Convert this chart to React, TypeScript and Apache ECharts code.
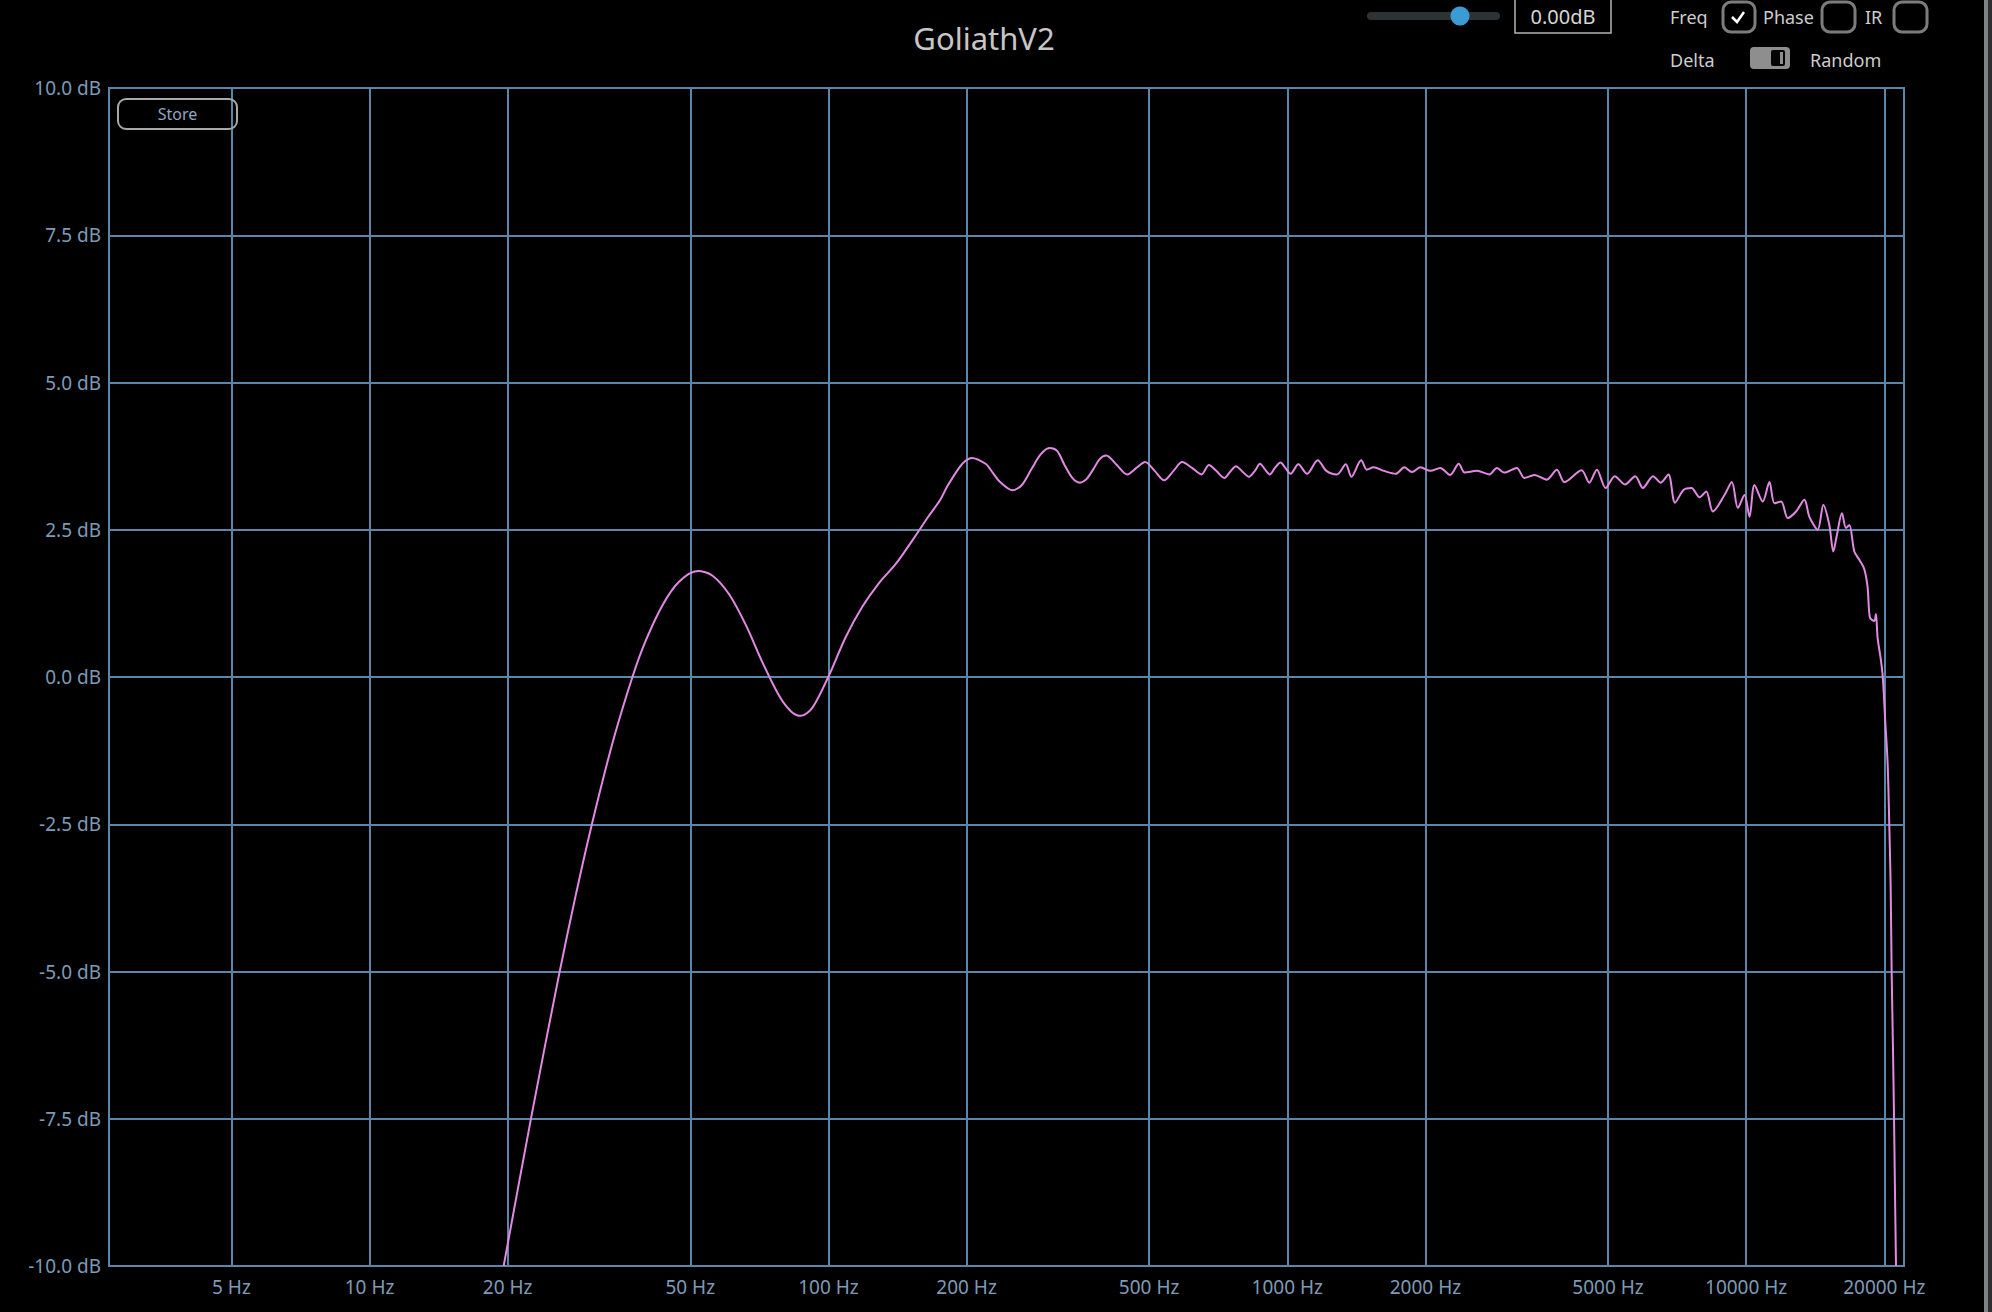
import React, { useEffect, useRef } from "react";
import * as echarts from "echarts";

// ---- axis ticks ----
const freqTicksHz = [5, 10, 20, 50, 100, 200, 500, 1000, 2000, 5000, 10000, 20000];
const dbMin = -10;
const dbMax = 10;
const dbStep = 2.5;
const freqMinHz = 2.705;
const freqMaxHz = 22080;

// ---- curve: low band (rise, first bump and dip) ----
const lowFreqHz = [19.6, 22.5, 25.9, 28.2, 30.6, 33.9, 37.4, 40.0, 43.5, 47.3, 51.9, 55.9, 60.8, 66.1, 71.9, 78.1, 82.8, 87.1, 92.3, 99.9, 109.1, 118.7, 129, 140.2, 152.4, 165, 175, 182, 193, 199];
const lowDb = [-10, -7.48, -5.04, -3.67, -2.46, -1.1, 0, 0.62, 1.22, 1.62, 1.8, 1.72, 1.4, 0.88, 0.24, -0.32, -0.58, -0.66, -0.52, 0, 0.68, 1.2, 1.6, 1.92, 2.32, 2.72, 3.0, 3.25, 3.56, 3.67];

// ---- curve: mid band (ripples) ----
const midFreqHz = [205, 220, 228, 236, 252, 264, 277, 290, 303, 315, 327, 340, 353, 365, 378, 390, 403, 425, 448, 469, 490, 514, 539, 565, 590, 620, 650, 675, 700, 729, 750, 773, 800, 825, 850, 872, 895, 916, 940, 967, 990, 1017, 1057, 1104, 1165, 1217, 1283, 1341, 1379, 1449, 1491, 1543, 1623, 1723, 1800, 1870, 1950, 2051, 2154, 2264, 2364, 2436, 2590, 2755, 2863, 2972, 3163, 3286, 3454, 3676, 3868, 4017, 4379, 4550, 4728, 4940, 5173, 5445, 5732, 5956, 6268, 6514, 6770, 6998, 7310, 7597, 7914];
const midDb = [3.72, 3.62, 3.47, 3.32, 3.17, 3.26, 3.53, 3.78, 3.89, 3.84, 3.6, 3.38, 3.3, 3.36, 3.53, 3.7, 3.76, 3.6, 3.44, 3.55, 3.65, 3.5, 3.34, 3.5, 3.65, 3.55, 3.44, 3.6, 3.5, 3.38, 3.48, 3.58, 3.48, 3.4, 3.5, 3.62, 3.52, 3.44, 3.55, 3.64, 3.55, 3.45, 3.61, 3.45, 3.68, 3.5, 3.44, 3.61, 3.4, 3.68, 3.52, 3.56, 3.5, 3.45, 3.56, 3.48, 3.56, 3.5, 3.55, 3.43, 3.62, 3.47, 3.5, 3.44, 3.55, 3.47, 3.55, 3.38, 3.43, 3.35, 3.52, 3.31, 3.51, 3.3, 3.52, 3.21, 3.41, 3.27, 3.41, 3.21, 3.41, 3.3, 3.44, 2.96, 3.18, 3.21, 3.05];

// ---- curve: high band (noisy top end and roll-off) ----
const highFreqHz = [8185, 8462, 8971, 9307, 9592, 9917, 10170, 10426, 10870, 11240, 11527, 11918, 12322, 12846, 13394, 13734, 14318, 14732, 15180, 15486, 15749, 16176, 16503, 16783, 17208, 17645, 18093, 18396, 18610, 19019, 19180, 19340, 19668, 19850, 20100, 20337, 20510, 20648, 20752, 20893, 20999, 21105, 21210];
const highDb = [3.15, 2.81, 3.09, 3.31, 2.87, 3.09, 2.72, 3.26, 2.98, 3.31, 2.95, 2.98, 2.7, 2.81, 3.01, 2.72, 2.5, 2.92, 2.58, 2.13, 2.39, 2.78, 2.53, 2.58, 2.13, 1.99, 1.83, 1.52, 1.01, 0.95, 1.07, 0.67, 0.28, 0.0, -0.76, -1.46, -2.52, -3.54, -4.99, -6.32, -7.45, -8.75, -10];

const GRID = "#5a86a8";
const LABEL = "#7d9bb6";
const CURVE = "#e28ae2";
const UI_TEXT = "#cdcdcd";
const FONT = "'Noto Sans', 'Open Sans', sans-serif";

function buildPoints(): number[][] {
  const f = [...lowFreqHz, ...midFreqHz, ...highFreqHz];
  const d = [...lowDb, ...midDb, ...highDb];
  return f.map((hz, i) => [Math.log10(hz), d[i]]);
}

export default function App() {
  const ref = useRef<HTMLDivElement>(null);

  useEffect(() => {
    if (!ref.current) return;
    const chart = echarts.init(ref.current, null, { renderer: "svg" });
    const tickLogs = freqTicksHz.map((v) => Math.log10(v));

    const label = (x: number, y: number, text: string, size = 18, color = UI_TEXT, align = "left") => ({
      type: "text",
      x,
      y,
      style: {
        text,
        fill: color,
        font: `${size}px ${FONT}`,
        align,
        textAlign: align,
        verticalAlign: "middle",
        textVerticalAlign: "middle",
      },
      z: 100,
    });

    const box = (x: number, y: number, w: number, h: number, r: number, stroke: string, lw: number, fill = "rgba(0,0,0,0)") => ({
      type: "rect",
      shape: { x, y, width: w, height: h, r },
      style: { fill, stroke, lineWidth: lw },
      z: 100,
    });

    chart.setOption({
      animation: false,
      backgroundColor: "#000000",
      textStyle: { fontFamily: FONT },
      grid: {
        left: 109,
        right: 88,
        top: 88,
        bottom: 46,
        show: true,
        borderColor: GRID,
        borderWidth: 2,
        backgroundColor: "#000000",
        containLabel: false,
      },
      xAxis: {
        type: "value",
        min: Math.log10(freqMinHz),
        max: Math.log10(freqMaxHz),
        axisLine: { show: true, lineStyle: { color: GRID, width: 2 } },
        axisTick: { show: false, customValues: tickLogs },
        axisLabel: {
          customValues: tickLogs,
          color: LABEL,
          fontSize: 19,
          fontFamily: FONT,
          margin: 11,
          formatter: (v: number) => `${Math.round(Math.pow(10, v))} Hz`,
        },
        splitLine: { show: true, lineStyle: { color: GRID, width: 2 } },
      },
      yAxis: {
        type: "value",
        min: dbMin,
        max: dbMax,
        interval: dbStep,
        axisLine: { show: true, lineStyle: { color: GRID, width: 2 } },
        axisTick: { show: false },
        axisLabel: {
          color: LABEL,
          fontSize: 19,
          fontFamily: FONT,
          margin: 8,
          formatter: (v: number) => `${v.toFixed(1)} dB`,
        },
        splitLine: { show: true, lineStyle: { color: GRID, width: 2 } },
      },
      series: [
        {
          type: "line",
          data: buildPoints(),
          showSymbol: false,
          symbol: "none",
          smooth: 0.3,
          clip: true,
          lineStyle: { color: CURVE, width: 2 },
          z: 10,
        },
      ],
      graphic: [
        // title
        label(984, 38, "GoliathV2", 31, "#c6c6c6", "center"),
        // gain slider
        box(1367, 12, 133, 8, 4, "rgba(0,0,0,0)", 0, "#2d3235"),
        { type: "circle", shape: { cx: 1460, cy: 16, r: 9.5 }, style: { fill: "#3a9bd5" }, z: 101 },
        box(1515, -2, 96, 35, 0, "#b4b4b4", 1.5),
        label(1563, 16, "0.00dB", 20, "#d6d6d6", "center"),
        // checkboxes
        label(1670, 17, "Freq"),
        box(1723, 2, 32, 30, 8, "#7c7c7c", 3),
        {
          type: "polyline",
          shape: { points: [[1732, 17], [1737, 22], [1744, 12]] },
          style: { stroke: "#ffffff", lineWidth: 2.5, fill: "none" },
          z: 101,
        },
        label(1763, 17, "Phase"),
        box(1822, 2, 33, 30, 8, "#7c7c7c", 3),
        label(1865, 17, "IR"),
        box(1894, 2, 33, 30, 8, "#7c7c7c", 3),
        // delta toggle
        label(1670, 60, "Delta"),
        box(1750, 47, 40, 22, 4, "rgba(0,0,0,0)", 0, "#8e8e8e"),
        box(1771, 50, 14, 16, 2, "rgba(0,0,0,0)", 0, "#050505"),
        box(1780, 52, 3, 12, 0, "rgba(0,0,0,0)", 0, "#8e8e8e"),
        label(1810, 60, "Random"),
        // store button
        box(118, 99, 119, 30, 8, "#a8a8a8", 2),
        label(177.5, 114, "Store", 16, "#8fa9c0", "center"),
        // window edge
        { type: "rect", shape: { x: 1984, y: 0, width: 4, height: 1312 }, style: { fill: "#7e8484" }, z: 100 },
        { type: "rect", shape: { x: 1988, y: 0, width: 4, height: 1312 }, style: { fill: "#2e2e2e" }, z: 100 },
      ],
    });

    return () => chart.dispose();
  }, []);

  return (
    <div
      ref={ref}
      style={{ position: "fixed", left: 0, top: 0, width: 1992, height: 1312, background: "#000" }}
    />
  );
}
